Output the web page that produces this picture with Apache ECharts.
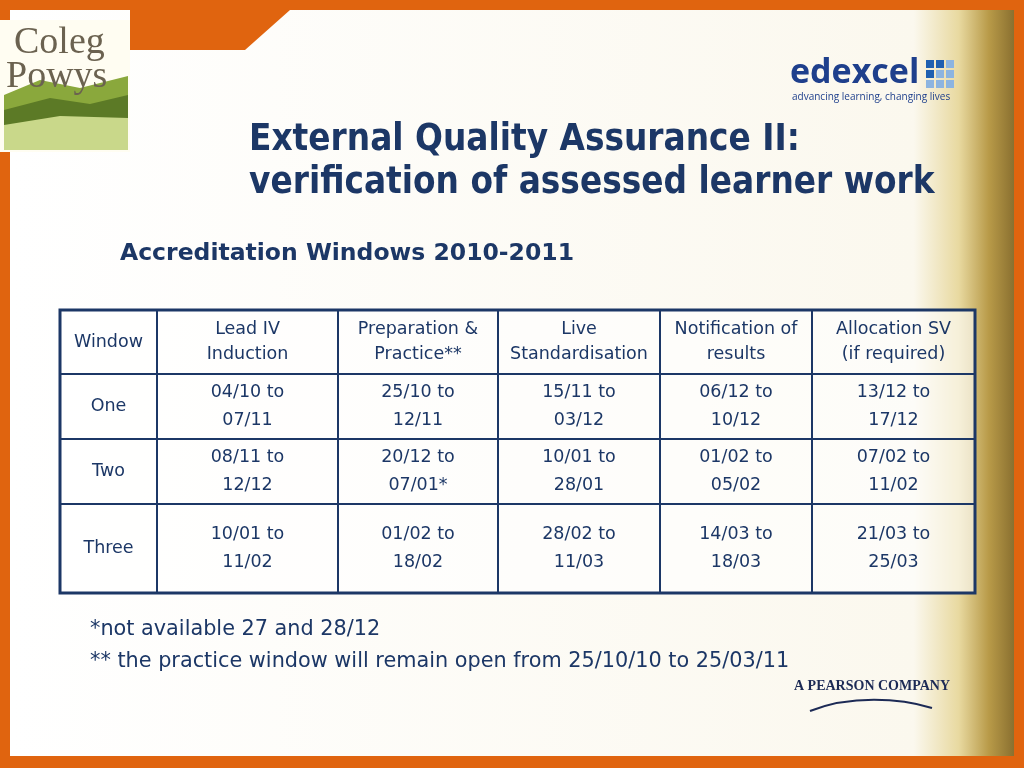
<!DOCTYPE html>
<html><head><meta charset="utf-8">
<script src="https://cdn.jsdelivr.net/npm/echarts@6/dist/echarts.min.js"></script>
<style>html,body{margin:0;padding:0}#c{width:1024px;height:768px}</style>
</head><body><div id="c"></div>
<script>
var headers = [['Window'], ['Lead IV', 'Induction'], ['Preparation &', 'Practice**'], ['Live', 'Standardisation'], ['Notification of', 'results'], ['Allocation SV', '(if required)']];
var windowNames = ['One', 'Two', 'Three'];
var leadIV = [['04/10 to', '07/11'], ['08/11 to', '12/12'], ['10/01 to', '11/02']];
var preparation = [['25/10 to', '12/11'], ['20/12 to', '07/01*'], ['01/02 to', '18/02']];
var liveStd = [['15/11 to', '03/12'], ['10/01 to', '28/01'], ['28/02 to', '11/03']];
var notification = [['06/12 to', '10/12'], ['01/02 to', '05/02'], ['14/03 to', '18/03']];
var allocation = [['13/12 to', '17/12'], ['07/02 to', '11/02'], ['21/03 to', '25/03']];
var notes = ['*not available 27 and 28/12', '** the practice window will remain open from 25/10/10 to 25/03/11'];

var colX = [60, 157, 338, 498, 660, 812, 975];
var rowY = [310, 374, 439, 504, 593];
var navy = '#1c3766';
var font = '"DejaVu Sans", Verdana, sans-serif';

var g = [];
// frame
g.push({type: 'rect', shape: {x: 0, y: 0, width: 1024, height: 768}, style: {fill: '#e0640f'}});
g.push({type: 'rect', shape: {x: 10, y: 10, width: 1004, height: 746},
  style: {fill: new echarts.graphic.LinearGradient(0, 0, 1, 0, [
    {offset: 0, color: '#ffffff'}, {offset: 0.9, color: '#fbf8ee'}, {offset: 0.945, color: '#e8d9a0'},
    {offset: 0.975, color: '#b89a48'}, {offset: 1, color: '#8a7030'}])}});
g.push({type: 'polygon', shape: {points: [[130, 10], [290, 10], [245, 50], [130, 50]]}, style: {fill: '#e0640f'}});
// Coleg Powys logo
g.push({type: 'rect', shape: {x: 0, y: 20, width: 130, height: 132}, style: {fill: '#fffdf2'}});
g.push({type: 'polygon', shape: {points: [[4, 95], [40, 80], [80, 88], [128, 76], [128, 150], [4, 150]]}, style: {fill: '#8aa83c'}});
g.push({type: 'polygon', shape: {points: [[4, 110], [50, 98], [90, 104], [128, 95], [128, 150], [4, 150]]}, style: {fill: '#5c7a26'}});
g.push({type: 'polygon', shape: {points: [[4, 125], [60, 116], [128, 118], [128, 150], [4, 150]]}, style: {fill: '#c9d88a'}});
g.push({type: 'text', style: {x: 14, y: 24, text: 'Coleg', fill: '#6b6250', font: '38px "Liberation Serif", serif'}});
g.push({type: 'text', style: {x: 6, y: 58, text: 'Powys', fill: '#6b6250', font: '38px "Liberation Serif", serif'}});
// edexcel logo
g.push({type: 'text', style: {x: 790, y: 56, text: 'edexcel', fill: '#1e3f8c', font: 'bold 34px "Open Sans", sans-serif'}});
g.push({type: 'text', style: {x: 792, y: 92, text: 'advancing learning, changing lives', fill: '#1e3f8c', font: '10px "Open Sans", sans-serif'}});
for (var i = 0; i < 3; i++) for (var j = 0; j < 3; j++)
  g.push({type: 'rect', shape: {x: 926 + j * 10, y: 60 + i * 10, width: 8, height: 8}, style: {fill: i + j < 2 ? '#1e5fb0' : '#8cb4e0'}});
// title
g.push({type: 'text', style: {x: 249, y: 122, text: 'External Quality Assurance II:', fill: navy, font: 'bold 36.5px "DejaVu Sans Condensed", sans-serif'}});
g.push({type: 'text', style: {x: 249, y: 165, text: 'verification of assessed learner work', fill: navy, font: 'bold 36.5px "DejaVu Sans Condensed", sans-serif'}});
g.push({type: 'text', style: {x: 120, y: 242, text: 'Accreditation Windows 2010-2011', fill: navy, font: 'bold 23.5px ' + font}});

// table
g.push({type: 'rect', shape: {x: 60, y: 310, width: 915, height: 283}, style: {fill: 'rgba(255,255,255,0.6)', stroke: navy, lineWidth: 3}});
for (var c = 1; c < 6; c++) g.push({type: 'line', shape: {x1: colX[c], y1: 310, x2: colX[c], y2: 593}, style: {stroke: navy, lineWidth: 2}});
for (var r = 1; r < 4; r++) g.push({type: 'line', shape: {x1: 60, y1: rowY[r], x2: 975, y2: rowY[r]}, style: {stroke: navy, lineWidth: 2}});

function cell(lines, c, r) {
  var cx = (colX[c] + colX[c + 1]) / 2, cy = (rowY[r] + rowY[r + 1]) / 2;
  g.push({type: 'text', style: {x: cx, y: cy, text: lines.join('\n'), align: 'center', verticalAlign: 'middle',
    fill: navy, font: '17.5px ' + font, lineHeight: lines.length > 1 && r > 0 ? 28 : 25}});
}
headers.forEach(function (h, c) { cell(h, c, 0); });
var cols = [leadIV, preparation, liveStd, notification, allocation];
windowNames.forEach(function (n, r) {
  cell([n], 0, r + 1);
  cols.forEach(function (col, c) { cell(col[r], c + 1, r + 1); });
});
g.push({type: 'text', style: {x: 90, y: 619, text: notes[0], fill: navy, font: '20.8px ' + font}});
g.push({type: 'text', style: {x: 90, y: 651, text: notes[1], fill: navy, font: '20.8px ' + font}});
// Pearson
g.push({type: 'text', style: {x: 794, y: 679, text: 'A PEARSON COMPANY', fill: '#1c2a55', font: 'bold 14px "Liberation Serif", serif'}});
g.push({type: 'bezierCurve', shape: {x1: 810, y1: 711, x2: 932, y2: 708, cpx1: 850, cpy1: 695, cpx2: 900, cpy2: 698}, style: {stroke: '#1c2a55', lineWidth: 2, fill: null}});

var chart = echarts.init(document.getElementById('c'));
chart.setOption({animation: false, graphic: g});
</script>
</body></html>
